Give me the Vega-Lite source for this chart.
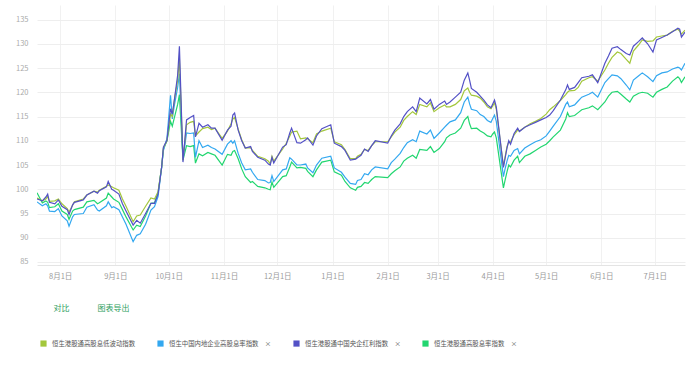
{
"$schema":"https://vega.github.io/schema/vega-lite/v6.json",
"width":648,"height":260,
"autosize":{"type":"none"},
"padding":{"left":37,"top":5,"right":15,"bottom":102},
"background":"white",
"config":{"view":{"stroke":null},"font":"Noto Sans CJK SC"},
"data":{"values":[
{"d":"2024-07-19","Y":98.2,"B":97.4,"I":98.0,"G":99.3},
{"d":"2024-07-22","Y":97.6,"B":96.6,"I":97.6,"G":97.2},
{"d":"2024-07-24","Y":98.0,"B":97.0,"I":98.4,"G":97.6},
{"d":"2024-07-25","Y":98.5,"B":96.6,"I":99.0,"G":97.3},
{"d":"2024-07-26","Y":97.5,"B":95.5,"I":97.3,"G":96.2},
{"d":"2024-07-29","Y":97.6,"B":95.4,"I":97.0,"G":96.4},
{"d":"2024-07-31","Y":98.0,"B":96.0,"I":97.8,"G":97.0},
{"d":"2024-08-02","Y":97.0,"B":94.5,"I":96.5,"G":95.5},
{"d":"2024-08-05","Y":96.0,"B":93.5,"I":95.8,"G":94.8},
{"d":"2024-08-06","Y":95.3,"B":92.4,"I":94.8,"G":93.8},
{"d":"2024-08-08","Y":96.7,"B":94.3,"I":96.8,"G":95.5},
{"d":"2024-08-09","Y":97.4,"B":94.8,"I":97.3,"G":95.8},
{"d":"2024-08-14","Y":98.0,"B":95.0,"I":97.8,"G":96.3},
{"d":"2024-08-16","Y":98.8,"B":96.3,"I":98.8,"G":97.4},
{"d":"2024-08-20","Y":99.6,"B":96.8,"I":99.6,"G":97.7},
{"d":"2024-08-22","Y":99.4,"B":95.7,"I":99.2,"G":97.0},
{"d":"2024-08-23","Y":99.8,"B":95.5,"I":99.7,"G":97.2},
{"d":"2024-08-27","Y":100.6,"B":96.6,"I":100.5,"G":98.2},
{"d":"2024-08-28","Y":100.9,"B":97.4,"I":101.6,"G":99.2},
{"d":"2024-08-30","Y":100.5,"B":96.2,"I":100.0,"G":98.4},
{"d":"2024-08-31","Y":100.3,"B":96.4,"I":99.8,"G":98.0},
{"d":"2024-09-03","Y":99.8,"B":95.8,"I":99.0,"G":97.3},
{"d":"2024-09-05","Y":98.0,"B":94.3,"I":97.0,"G":95.8},
{"d":"2024-09-07","Y":96.5,"B":92.8,"I":95.5,"G":94.3},
{"d":"2024-09-11","Y":93.3,"B":89.2,"I":92.6,"G":91.6},
{"d":"2024-09-13","Y":94.5,"B":90.5,"I":93.6,"G":92.6},
{"d":"2024-09-15","Y":94.7,"B":90.8,"I":93.0,"G":92.3},
{"d":"2024-09-18","Y":96.5,"B":92.8,"I":95.0,"G":94.5},
{"d":"2024-09-21","Y":98.2,"B":95.7,"I":97.1,"G":97.1},
{"d":"2024-09-23","Y":98.0,"B":96.4,"I":97.1,"G":97.2},
{"d":"2024-09-25","Y":99.5,"B":98.5,"I":99.0,"G":99.3},
{"d":"2024-09-27","Y":104.5,"B":104.5,"I":104.5,"G":104.5},
{"d":"2024-09-28","Y":108.5,"B":108.0,"I":108.7,"G":108.3},
{"d":"2024-09-30","Y":110.0,"B":110.5,"I":110.1,"G":110.0},
{"d":"2024-10-02","Y":115.5,"B":119.4,"I":116.6,"G":114.0},
{"d":"2024-10-03","Y":115.0,"B":114.5,"I":115.5,"G":113.0},
{"d":"2024-10-04","Y":118.0,"B":117.0,"I":118.0,"G":114.5},
{"d":"2024-10-06","Y":122.5,"B":121.0,"I":123.5,"G":117.5},
{"d":"2024-10-07","Y":127.0,"B":123.8,"I":129.5,"G":119.5},
{"d":"2024-10-09","Y":106.0,"B":106.2,"I":105.6,"G":106.0},
{"d":"2024-10-11","Y":113.3,"B":111.6,"I":114.3,"G":109.0},
{"d":"2024-10-13","Y":113.8,"B":111.5,"I":114.8,"G":108.8},
{"d":"2024-10-15","Y":114.0,"B":111.6,"I":115.2,"G":109.0},
{"d":"2024-10-16","Y":111.0,"B":106.6,"I":110.8,"G":105.4},
{"d":"2024-10-18","Y":111.8,"B":110.0,"I":113.6,"G":107.3},
{"d":"2024-10-20","Y":112.5,"B":108.6,"I":112.8,"G":106.9},
{"d":"2024-10-23","Y":112.8,"B":109.1,"I":113.3,"G":107.6},
{"d":"2024-10-25","Y":112.3,"B":108.6,"I":112.6,"G":107.3},
{"d":"2024-10-27","Y":112.6,"B":108.3,"I":112.6,"G":107.0},
{"d":"2024-10-31","Y":110.5,"B":107.2,"I":110.1,"G":105.0},
{"d":"2024-11-03","Y":112.0,"B":109.3,"I":112.2,"G":107.2},
{"d":"2024-11-05","Y":113.5,"B":110.0,"I":113.0,"G":107.0},
{"d":"2024-11-06","Y":114.5,"B":109.5,"I":115.3,"G":107.8},
{"d":"2024-11-07","Y":114.8,"B":110.0,"I":115.7,"G":108.0},
{"d":"2024-11-09","Y":112.4,"B":107.4,"I":112.2,"G":106.3},
{"d":"2024-11-11","Y":110.2,"B":105.4,"I":110.0,"G":104.2},
{"d":"2024-11-13","Y":108.5,"B":104.0,"I":108.5,"G":102.6},
{"d":"2024-11-16","Y":108.6,"B":104.2,"I":108.8,"G":101.4},
{"d":"2024-11-17","Y":108.0,"B":103.5,"I":107.8,"G":101.6},
{"d":"2024-11-20","Y":106.8,"B":102.0,"I":106.6,"G":100.6},
{"d":"2024-11-24","Y":106.3,"B":101.8,"I":106.0,"G":100.3},
{"d":"2024-11-26","Y":105.8,"B":101.3,"I":105.2,"G":100.0},
{"d":"2024-11-27","Y":105.2,"B":101.4,"I":105.0,"G":99.9},
{"d":"2024-11-28","Y":106.8,"B":102.8,"I":106.6,"G":101.5},
{"d":"2024-11-29","Y":105.8,"B":101.6,"I":105.4,"G":100.4},
{"d":"2024-12-04","Y":108.3,"B":104.0,"I":108.7,"G":102.6},
{"d":"2024-12-06","Y":109.5,"B":104.2,"I":109.2,"G":102.8},
{"d":"2024-12-08","Y":111.0,"B":106.5,"I":111.6,"G":104.6},
{"d":"2024-12-09","Y":111.8,"B":106.2,"I":112.6,"G":105.6},
{"d":"2024-12-12","Y":112.0,"B":105.0,"I":109.6,"G":104.4},
{"d":"2024-12-14","Y":110.4,"B":105.0,"I":109.5,"G":104.5},
{"d":"2024-12-17","Y":110.6,"B":105.2,"I":110.2,"G":104.3},
{"d":"2024-12-18","Y":110.4,"B":104.4,"I":110.6,"G":103.7},
{"d":"2024-12-21","Y":109.6,"B":103.4,"I":109.1,"G":102.6},
{"d":"2024-12-23","Y":111.4,"B":105.0,"I":111.0,"G":104.0},
{"d":"2024-12-26","Y":112.0,"B":106.4,"I":112.5,"G":105.6},
{"d":"2024-12-31","Y":112.6,"B":106.8,"I":113.3,"G":106.0},
{"d":"2025-01-02","Y":109.8,"B":104.4,"I":109.5,"G":103.6},
{"d":"2025-01-06","Y":109.2,"B":103.5,"I":108.8,"G":102.9},
{"d":"2025-01-08","Y":108.2,"B":102.5,"I":108.0,"G":101.6},
{"d":"2025-01-11","Y":106.3,"B":101.2,"I":106.0,"G":100.3},
{"d":"2025-01-14","Y":106.3,"B":101.0,"I":106.2,"G":99.8},
{"d":"2025-01-15","Y":106.8,"B":101.8,"I":106.5,"G":100.4},
{"d":"2025-01-17","Y":107.2,"B":102.0,"I":107.0,"G":100.6},
{"d":"2025-01-19","Y":108.2,"B":103.2,"I":108.3,"G":101.4},
{"d":"2025-01-21","Y":108.0,"B":103.0,"I":107.8,"G":101.2},
{"d":"2025-01-23","Y":109.0,"B":104.0,"I":109.0,"G":102.0},
{"d":"2025-01-25","Y":109.8,"B":104.6,"I":110.0,"G":102.6},
{"d":"2025-02-01","Y":109.8,"B":104.2,"I":109.5,"G":102.4},
{"d":"2025-02-03","Y":110.8,"B":105.5,"I":111.0,"G":103.2},
{"d":"2025-02-05","Y":111.8,"B":106.2,"I":112.2,"G":103.8},
{"d":"2025-02-08","Y":112.8,"B":107.4,"I":113.5,"G":104.6},
{"d":"2025-02-10","Y":114.2,"B":108.6,"I":115.0,"G":105.8},
{"d":"2025-02-12","Y":115.0,"B":109.6,"I":116.0,"G":106.4},
{"d":"2025-02-15","Y":116.0,"B":110.2,"I":117.0,"G":107.0},
{"d":"2025-02-17","Y":115.4,"B":109.8,"I":116.0,"G":106.4},
{"d":"2025-02-19","Y":117.5,"B":112.0,"I":118.8,"G":108.2},
{"d":"2025-02-23","Y":117.0,"B":111.4,"I":117.6,"G":108.0},
{"d":"2025-02-25","Y":117.8,"B":112.2,"I":118.5,"G":108.8},
{"d":"2025-02-27","Y":116.0,"B":110.5,"I":116.5,"G":107.6},
{"d":"2025-03-02","Y":116.8,"B":111.6,"I":117.5,"G":108.4},
{"d":"2025-03-05","Y":117.4,"B":112.8,"I":118.2,"G":109.8},
{"d":"2025-03-06","Y":117.0,"B":113.2,"I":117.5,"G":110.6},
{"d":"2025-03-08","Y":117.0,"B":113.9,"I":118.0,"G":111.2},
{"d":"2025-03-11","Y":117.5,"B":114.3,"I":119.0,"G":111.6},
{"d":"2025-03-14","Y":118.5,"B":115.8,"I":120.0,"G":112.6},
{"d":"2025-03-16","Y":120.3,"B":118.0,"I":122.5,"G":114.2},
{"d":"2025-03-18","Y":120.9,"B":119.0,"I":124.0,"G":115.0},
{"d":"2025-03-19","Y":120.0,"B":117.6,"I":122.5,"G":113.5},
{"d":"2025-03-20","Y":119.4,"B":116.5,"I":120.8,"G":112.5},
{"d":"2025-03-23","Y":119.2,"B":116.2,"I":120.0,"G":112.6},
{"d":"2025-03-25","Y":118.8,"B":115.4,"I":119.2,"G":112.0},
{"d":"2025-03-27","Y":118.0,"B":115.0,"I":118.4,"G":111.6},
{"d":"2025-03-29","Y":117.0,"B":114.2,"I":117.4,"G":111.0},
{"d":"2025-03-31","Y":116.6,"B":113.8,"I":116.8,"G":110.8},
{"d":"2025-04-01","Y":117.2,"B":114.6,"I":117.6,"G":111.4},
{"d":"2025-04-02","Y":117.8,"B":115.3,"I":118.4,"G":111.8},
{"d":"2025-04-03","Y":116.5,"B":114.0,"I":117.0,"G":110.6},
{"d":"2025-04-07","Y":104.8,"B":102.6,"I":104.5,"G":100.3},
{"d":"2025-04-08","Y":106.8,"B":104.3,"I":106.5,"G":102.0},
{"d":"2025-04-09","Y":108.8,"B":105.8,"I":108.5,"G":103.6},
{"d":"2025-04-10","Y":109.8,"B":107.0,"I":110.0,"G":105.0},
{"d":"2025-04-11","Y":109.8,"B":106.8,"I":109.3,"G":104.6},
{"d":"2025-04-13","Y":111.2,"B":108.0,"I":111.5,"G":106.0},
{"d":"2025-04-15","Y":112.2,"B":108.4,"I":112.6,"G":106.8},
{"d":"2025-04-16","Y":112.0,"B":107.3,"I":111.9,"G":105.5},
{"d":"2025-04-19","Y":112.8,"B":108.5,"I":112.8,"G":106.8},
{"d":"2025-04-22","Y":113.5,"B":109.2,"I":113.3,"G":107.3},
{"d":"2025-04-25","Y":114.0,"B":109.8,"I":113.8,"G":108.0},
{"d":"2025-04-28","Y":114.6,"B":110.2,"I":114.3,"G":108.7},
{"d":"2025-05-01","Y":115.5,"B":111.0,"I":114.8,"G":109.3},
{"d":"2025-05-03","Y":116.4,"B":112.0,"I":115.3,"G":110.0},
{"d":"2025-05-05","Y":117.0,"B":113.0,"I":116.2,"G":110.8},
{"d":"2025-05-09","Y":118.3,"B":115.0,"I":118.4,"G":112.2},
{"d":"2025-05-12","Y":119.5,"B":117.5,"I":120.5,"G":114.5},
{"d":"2025-05-13","Y":120.0,"B":118.0,"I":121.5,"G":115.8},
{"d":"2025-05-14","Y":120.3,"B":117.0,"I":120.6,"G":115.0},
{"d":"2025-05-17","Y":120.4,"B":117.4,"I":121.0,"G":115.2},
{"d":"2025-05-19","Y":121.0,"B":118.2,"I":122.0,"G":115.8},
{"d":"2025-05-21","Y":122.3,"B":119.0,"I":123.0,"G":116.4},
{"d":"2025-05-25","Y":123.0,"B":119.6,"I":123.3,"G":116.8},
{"d":"2025-05-27","Y":123.2,"B":120.0,"I":123.6,"G":117.2},
{"d":"2025-05-30","Y":122.3,"B":119.0,"I":122.0,"G":116.4},
{"d":"2025-06-03","Y":124.6,"B":122.0,"I":126.0,"G":118.0},
{"d":"2025-06-05","Y":126.0,"B":122.8,"I":127.5,"G":119.2},
{"d":"2025-06-07","Y":127.2,"B":123.6,"I":129.1,"G":120.0},
{"d":"2025-06-10","Y":128.3,"B":123.4,"I":129.4,"G":120.2},
{"d":"2025-06-12","Y":128.0,"B":122.8,"I":128.8,"G":119.6},
{"d":"2025-06-15","Y":126.8,"B":121.5,"I":128.0,"G":118.6},
{"d":"2025-06-17","Y":126.0,"B":120.5,"I":127.7,"G":118.0},
{"d":"2025-06-19","Y":128.5,"B":122.5,"I":129.5,"G":119.2},
{"d":"2025-06-22","Y":129.8,"B":123.4,"I":130.5,"G":119.8},
{"d":"2025-06-24","Y":130.8,"B":124.0,"I":131.2,"G":120.0},
{"d":"2025-06-27","Y":130.5,"B":123.2,"I":130.0,"G":119.8},
{"d":"2025-06-30","Y":130.6,"B":122.2,"I":128.3,"G":119.0},
{"d":"2025-07-02","Y":131.4,"B":123.4,"I":130.8,"G":120.0},
{"d":"2025-07-05","Y":131.6,"B":124.0,"I":131.3,"G":120.6},
{"d":"2025-07-08","Y":131.8,"B":124.2,"I":131.8,"G":121.1},
{"d":"2025-07-11","Y":132.6,"B":124.8,"I":132.5,"G":122.3},
{"d":"2025-07-14","Y":133.0,"B":125.2,"I":133.2,"G":123.2},
{"d":"2025-07-15","Y":132.6,"B":125.0,"I":133.0,"G":122.8},
{"d":"2025-07-16","Y":132.0,"B":124.6,"I":131.4,"G":122.0},
{"d":"2025-07-18","Y":132.8,"B":126.0,"I":132.4,"G":123.2}
]},
"transform":[{"fold":["G","B","Y","I"],"as":["series","value"]}],
"mark":{"type":"line","strokeWidth":1.2,"clip":true},
"encoding":{
 "x":{"field":"d","type":"temporal",
  "scale":{"type":"utc","domain":[{"year":2024,"month":7,"date":19,"utc":true},{"year":2025,"month":7,"date":18,"utc":true}]},
  "axis":{"values":[
   {"year":2024,"month":8,"date":1,"utc":true},{"year":2024,"month":9,"date":1,"utc":true},{"year":2024,"month":10,"date":1,"utc":true},{"year":2024,"month":11,"date":1,"utc":true},{"year":2024,"month":12,"date":1,"utc":true},{"year":2025,"month":1,"date":1,"utc":true},{"year":2025,"month":2,"date":1,"utc":true},{"year":2025,"month":3,"date":1,"utc":true},{"year":2025,"month":4,"date":1,"utc":true},{"year":2025,"month":5,"date":1,"utc":true},{"year":2025,"month":6,"date":1,"utc":true},{"year":2025,"month":7,"date":1,"utc":true}],
   "labelExpr":"utcFormat(datum.value, '%-m月%-d日')","labelFontSize":7.5,"labelColor":"#9a9a9a","labelPadding":7,"ticks":false,
   "domainColor":"#e4e4e4","grid":true,"gridColor":"#f1f1f1","labelFont":"Noto Sans CJK SC",
   "title":"对比　　　\u2002图表导出","titleFontSize":8,"titleColor":"#2e9e5e","titleFontWeight":"normal",
   "titleAnchor":"start","titleAlign":"left","titleX":16,"titleY":43,"titleBaseline":"middle","titleFont":"Noto Sans CJK SC"}},
 "y":{"field":"value","type":"quantitative",
  "scale":{"domain":[84.38,138],"nice":false,"zero":false},
  "axis":{"values":[85,90,95,100,105,110,115,120,125,130,135],"labelFontSize":7.5,"labelColor":"#aaaaaa","labelPadding":9,
   "ticks":false,"domain":false,"gridColor":"#eeeeee","title":null}},
 "color":{"field":"series","type":"nominal",
  "scale":{"domain":["Y","B","I","G"],"range":["#a3c73c","#33a8f0","#5351c6","#22d670"]},
  "legend":{"orient":"none","legendX":3,"legendY":335,"direction":"horizontal","columns":4,"title":null,
   "symbolType":"square","symbolSize":38,"symbolStrokeWidth":0,"labelFontSize":6.4,"labelColor":"#555555","labelOffset":5,
   "columnPadding":21,"labelLimit":0,"labelFont":"Noto Sans CJK SC",
   "labelExpr":"datum.value=='Y'?'恒生港股通高股息低波动指数':datum.value=='B'?'恒生中国内地企业高股息率指数\u2002\u2002×':datum.value=='I'?'恒生港股通中国央企红利指数\u2002\u2002×':'恒生港股通高股息率指数\u2002\u2002×'",
   "encode":{"symbols":{"update":{"fill":{"scale":"color","field":"value"},"strokeWidth":{"value":0}}}}}}
}
}
